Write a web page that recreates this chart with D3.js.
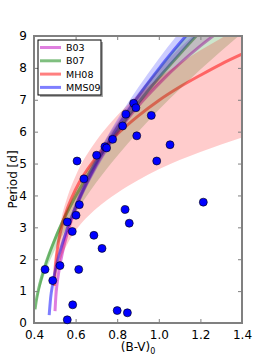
<!DOCTYPE html>
<html><head><meta charset="utf-8">
<script src="https://cdn.jsdelivr.net/npm/d3@7"></script>
<style>body{margin:0;background:#fff}svg{display:block}</style>
</head><body>
<svg id="c" width="270" height="360"></svg>
<script>
// ---- data ----
const xTicks = [0.4, 0.6, 0.8, 1.0, 1.2, 1.4];
const yTicks = [0, 1, 2, 3, 4, 5, 6, 7, 8, 9];
const models = ["B03", "B07", "MH08", "MMS09"];

const bvB03 = [0.501,0.505,0.51,0.52,0.54,0.57,0.6,0.7,0.8,0.9,1.0,1.1,1.2,1.3,1.4];
const pB03  = [0.37,0.83,1.17,1.64,2.30,3.02,3.58,4.95,5.97,6.80,7.50,8.13,8.69,9.19,9.66];
const loB03 = [0.37,0.83,1.17,1.64,2.30,3.02,3.58,4.95,5.97,6.80,7.50,8.13,8.69,9.19,9.66];
const hiB03 = [0.39,0.88,1.24,1.74,2.44,3.20,3.79,5.25,6.33,7.21,7.95,8.62,9.21,9.74,10.24];

const bvB07 = [0.405,0.41,0.42,0.44,0.46,0.5,0.55,0.6,0.7,0.8,0.9,1.0,1.1,1.2,1.3,1.4];
const pB07  = [0.43,0.66,1.00,1.51,1.93,2.62,3.34,3.97,5.07,6.02,6.89,7.69,8.43,9.14,9.80,10.45];
const loB07 = [0.37,0.57,0.87,1.31,1.68,2.28,2.91,3.45,4.41,5.24,5.99,6.69,7.33,7.95,8.53,9.09];
const hiB07 = [0.45,0.69,1.04,1.57,2.01,2.72,3.47,4.13,5.27,6.26,7.17,8.00,8.77,9.51,10.19,10.87];

const bvMH08 = [0.497,0.5,0.51,0.53,0.56,0.6,0.7,0.8,0.9,1.0,1.1,1.2,1.3,1.4];
const pMH08  = [1.16,1.56,2.22,2.93,3.58,4.19,5.20,5.92,6.49,6.98,7.40,7.77,8.12,8.43];
const loMH08 = [0.80,1.08,1.53,2.02,2.47,2.89,3.59,4.08,4.48,4.82,5.11,5.36,5.60,5.82];
const hiMH08 = [1.28,1.72,2.44,3.22,3.94,4.61,5.72,6.51,7.14,7.68,8.14,8.55,8.93,9.27];

const bvMMS09 = [0.473,0.48,0.49,0.5,0.52,0.55,0.6,0.65,0.7,0.8,0.9,1.0,1.1,1.2,1.3];
const pMMS09  = [0.25,0.79,1.23,1.57,2.12,2.77,3.64,4.37,5.01,6.13,7.10,7.97,8.77,9.52,10.23];
const loMMS09 = [0.24,0.76,1.18,1.51,2.04,2.66,3.49,4.20,4.81,5.88,6.82,7.65,8.42,9.14,9.82];
const hiMMS09 = [0.26,0.82,1.28,1.63,2.20,2.88,3.79,4.54,5.21,6.38,7.38,8.29,9.12,9.90,10.64];

const starBV = [0.453,0.525,0.49,0.615,0.727,0.586,0.56,0.80,0.849,0.607,0.64,0.618,0.602,0.56,0.584,0.688,0.701,0.741,0.749,0.778,0.826,0.838,0.858,0.879,0.89,0.842,0.964,0.894,1.054,0.99,1.214];
const starP  = [1.68,1.80,1.33,1.68,2.34,0.57,0.10,0.39,0.32,5.08,4.52,3.71,3.38,3.17,2.87,2.75,5.26,5.53,5.49,5.76,6.18,3.56,3.13,6.89,6.75,6.55,6.51,5.87,5.59,5.08,3.79];

// ---- drawing ----
const colors = {B03:"#bf00bf", B07:"#008000", MH08:"#ff0000", MMS09:"#0000ff"};
const series = {
  B03:[bvB03,pB03,loB03,hiB03], B07:[bvB07,pB07,loB07,hiB07],
  MH08:[bvMH08,pMH08,loMH08,hiMH08], MMS09:[bvMMS09,pMMS09,loMMS09,hiMMS09]
};
const L=34, R=242, T=36, B=323;
const svg = d3.select("#c");
const x = d3.scaleLinear().domain([0.4,1.4]).range([L,R]);
const y = d3.scaleLinear().domain([0,9]).range([B,T]);
const font = "DejaVu Sans, sans-serif";

svg.append("clipPath").attr("id","clip").append("rect")
  .attr("x",L).attr("y",T).attr("width",R-L).attr("height",B-T);
const plot = svg.append("g").attr("clip-path","url(#clip)");

const line = d3.line().x(d=>x(d[0])).y(d=>y(d[1])).curve(d3.curveMonotoneX);
const area = d3.area().x(d=>x(d[0])).y0(d=>y(d[1])).y1(d=>y(d[2])).curve(d3.curveMonotoneX);

models.forEach(m=>{
  const [bv,p] = series[m];
  plot.append("path").datum(bv.map((v,i)=>[v,p[i]]))
    .attr("d",line).attr("fill","none").attr("stroke",colors[m])
    .attr("stroke-opacity",0.5).attr("stroke-width",3);
});
models.forEach(m=>{
  const [bv,,lo,hi] = series[m];
  plot.append("path").datum(bv.map((v,i)=>[v,lo[i],hi[i]]))
    .attr("d",area).attr("fill",colors[m]).attr("fill-opacity",0.2).attr("stroke","none");
});

// axes
const ax = svg.append("g");
const gray = "#808080";
ax.append("g").attr("transform",`translate(0,${B})`)
  .call(d3.axisBottom(x).tickValues(xTicks).tickSize(-4).tickPadding(7).tickFormat(d3.format(".1f")));
ax.append("g").attr("transform",`translate(0,${T})`)
  .call(d3.axisTop(x).tickValues(xTicks).tickSize(-4).tickFormat(""));
ax.append("g").attr("transform",`translate(${L},0)`)
  .call(d3.axisLeft(y).tickValues(yTicks).tickSize(-4).tickPadding(7).tickFormat(d3.format("d")));
ax.append("g").attr("transform",`translate(${R},0)`)
  .call(d3.axisRight(y).tickValues(yTicks).tickSize(-4).tickFormat(""));
ax.selectAll(".domain").remove();
ax.selectAll(".tick line").attr("stroke",gray).attr("stroke-width",1);
ax.selectAll(".tick text").attr("font-family",font).attr("font-size",12).attr("fill","#000");
svg.append("rect").attr("x",L).attr("y",T).attr("width",R-L).attr("height",B-T)
  .attr("fill","none").attr("stroke",gray).attr("stroke-width",2);

// stars
svg.append("g").selectAll("circle").data(starBV.map((v,i)=>[v,starP[i]])).join("circle")
  .attr("cx",d=>x(d[0])).attr("cy",d=>y(d[1])).attr("r",4)
  .attr("fill","#0000ff").attr("stroke","#000").attr("stroke-width",0.6);

// labels
svg.append("text").attr("transform",`translate(17,${(T+B)/2}) rotate(-90)`)
  .attr("text-anchor","middle").attr("font-family",font).attr("font-size",12).text("Period [d]");
const xl = svg.append("text").attr("x",138).attr("y",351).attr("text-anchor","middle")
  .attr("font-family",font).attr("font-size",12);
xl.append("tspan").text("(B-V)");
xl.append("tspan").attr("font-size",8).attr("dy",3).text("0");

// legend
const lg = svg.append("g").attr("transform","translate(38,40)");
lg.append("rect").attr("x",2).attr("y",2).attr("width",63).attr("height",55).attr("fill","#aaa");
lg.append("rect").attr("x",0).attr("y",0).attr("width",63).attr("height",55)
  .attr("fill","#fff").attr("stroke","#000").attr("stroke-width",1);
models.forEach((m,i)=>{
  const yy = 7.5 + i*13.3;
  lg.append("line").attr("x1",2).attr("x2",23).attr("y1",yy).attr("y2",yy)
    .attr("stroke",colors[m]).attr("stroke-opacity",0.5).attr("stroke-width",3);
  lg.append("text").attr("x",28).attr("y",yy).attr("dy","0.36em")
    .attr("font-family",font).attr("font-size",9.5).text(m);
});
</script>
</body></html>
